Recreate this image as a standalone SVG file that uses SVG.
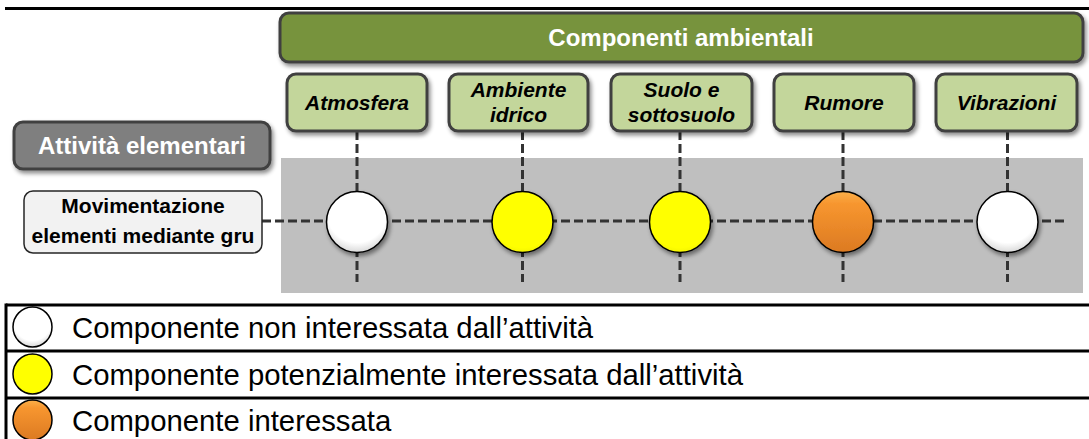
<svg xmlns="http://www.w3.org/2000/svg" width="1089" height="439" viewBox="0 0 1089 439">
<defs>
<filter id="sh" x="-10%" y="-20%" width="130%" height="150%">
<feDropShadow dx="2" dy="3" stdDeviation="2" flood-color="#000" flood-opacity="0.45"/>
</filter>
<radialGradient id="gWhite" cx="50%" cy="35%" r="65%">
<stop offset="0.75" stop-color="#ffffff"/>
<stop offset="1" stop-color="#d9d9d9"/>
</radialGradient>
<linearGradient id="gOrange" x1="0" y1="0" x2="0" y2="1">
<stop offset="0" stop-color="#fbb04a"/>
<stop offset="0.2" stop-color="#f7962f"/>
<stop offset="1" stop-color="#dc7a22"/>
</linearGradient>
<radialGradient id="gYellow" cx="50%" cy="40%" r="65%">
<stop offset="0.8" stop-color="#ffff00"/>
<stop offset="1" stop-color="#eeee00"/>
</radialGradient>
</defs>
<style>
.hdr{fill:#77933c;stroke:#404040;stroke-width:3}
.comp{fill:#c3d69b;stroke:#404040;stroke-width:3}
.act{fill:#7f7f7f;stroke:#404040;stroke-width:3}
.row{fill:#f2f2f2;stroke:#262626;stroke-width:1.5}
.t{font-family:"Liberation Sans",Arial,sans-serif;text-anchor:middle}
.tw{fill:#ffffff;font-weight:bold}
.ti{fill:#000;font-weight:bold;font-style:italic;font-size:21px}
.tb{fill:#000;font-weight:bold;font-size:21px}
.dash{stroke:#333333;stroke-width:3;stroke-dasharray:9 4;fill:none}
.c{stroke:#000;stroke-width:1.5}
.lg{stroke:#000;stroke-width:3}
.lt{font-family:"Liberation Sans",Arial,sans-serif;font-size:29.3px;fill:#000}
</style>
<line class="lg" x1="5" y1="8.5" x2="1089" y2="8.5"/>
<rect x="281" y="158" width="802" height="135" fill="#bfbfbf"/>
<g id="header">
<rect class="hdr" x="280" y="13" width="803" height="49" rx="9" filter="url(#sh)"/>
<text class="t tw" x="681" y="46" font-size="24">Componenti ambientali</text>
</g>
<g id="connectors">
<line class="dash" x1="262" y1="221" x2="1066" y2="221"/>
<line class="dash" x1="357" y1="131" x2="357" y2="282"/>
<line class="dash" x1="522.5" y1="131" x2="522.5" y2="282"/>
<line class="dash" x1="680" y1="131" x2="680" y2="282"/>
<line class="dash" x1="843" y1="131" x2="843" y2="282"/>
<line class="dash" x1="1007.5" y1="131" x2="1007.5" y2="282"/>
</g>
<g id="atmosfera">
<rect class="comp" x="287" y="74" width="140" height="57" rx="9" filter="url(#sh)"/>
<text class="t ti" x="357" y="110">Atmosfera</text>
</g>
<g id="ambiente-idrico">
<rect class="comp" x="449" y="74" width="139" height="57" rx="9" filter="url(#sh)"/>
<text class="t ti" x="518.5" y="97">Ambiente</text>
<text class="t ti" x="518.5" y="122">idrico</text>
</g>
<g id="suolo">
<rect class="comp" x="611" y="74" width="141" height="57" rx="9" filter="url(#sh)"/>
<text class="t ti" x="681.5" y="97">Suolo e</text>
<text class="t ti" x="681.5" y="122">sottosuolo</text>
</g>
<g id="rumore">
<rect class="comp" x="774" y="74" width="140" height="57" rx="9" filter="url(#sh)"/>
<text class="t ti" x="844" y="110">Rumore</text>
</g>
<g id="vibrazioni">
<rect class="comp" x="936" y="74" width="141" height="57" rx="9" filter="url(#sh)"/>
<text class="t ti" x="1006.5" y="110">Vibrazioni</text>
</g>
<g id="attivita-elementari">
<rect class="act" x="14" y="122" width="256" height="47" rx="9" filter="url(#sh)"/>
<text class="t tw" x="142" y="154" font-size="24">Attività elementari</text>
</g>
<g id="movimentazione">
<rect class="row" x="24" y="191" width="238" height="62" rx="9"/>
<text class="t tb" x="143" y="213">Movimentazione</text>
<text class="t tb" x="143" y="243">elementi mediante gru</text>
</g>
<g id="c-atmosfera"><circle class="c" cx="357" cy="222" r="30.5" fill="url(#gWhite)" filter="url(#sh)"/></g>
<g id="c-ambiente"><circle class="c" cx="522.5" cy="222" r="30.5" fill="url(#gYellow)" filter="url(#sh)"/></g>
<g id="c-suolo"><circle class="c" cx="680" cy="222" r="30.5" fill="url(#gYellow)" filter="url(#sh)"/></g>
<g id="c-rumore"><circle class="c" cx="843" cy="222" r="30.5" fill="url(#gOrange)" filter="url(#sh)"/></g>
<g id="c-vibrazioni"><circle class="c" cx="1007.5" cy="222" r="30.5" fill="url(#gWhite)" filter="url(#sh)"/></g>
<g id="legend">
<line class="lg" x1="6" y1="305" x2="1089" y2="305"/>
<line class="lg" x1="6" y1="351" x2="1089" y2="351"/>
<line class="lg" x1="6" y1="398" x2="1089" y2="398"/>
<line class="lg" x1="6" y1="303.5" x2="6" y2="439"/>
<ellipse class="c" cx="32.5" cy="327" rx="19.5" ry="20" fill="url(#gWhite)" stroke-width="1.2"/>
<ellipse class="c" cx="32.5" cy="374" rx="19.5" ry="20" fill="url(#gYellow)" stroke-width="1.2"/>
<ellipse class="c" cx="32.5" cy="420" rx="19.5" ry="20" fill="url(#gOrange)" stroke-width="1.2"/>
<text class="lt" x="72" y="338">Componente non interessata dall’attività</text>
<text class="lt" x="72" y="385">Componente potenzialmente interessata dall’attività</text>
<text class="lt" x="72" y="431">Componente interessata</text>
</g>
</svg>
